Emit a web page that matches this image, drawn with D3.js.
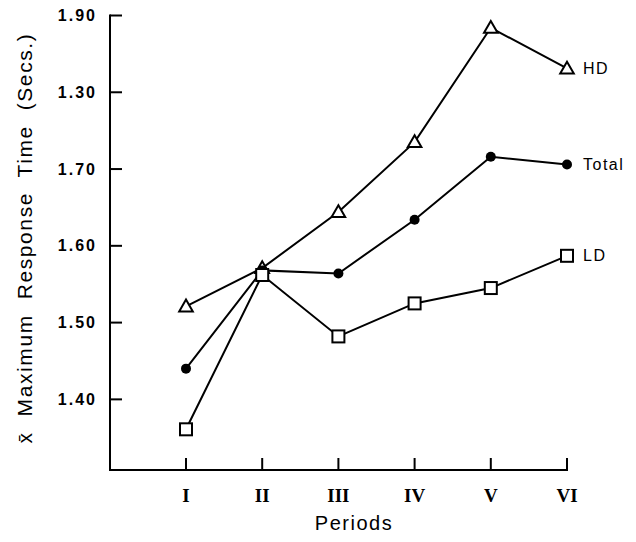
<!DOCTYPE html>
<html>
<head>
<meta charset="utf-8">
<script src="https://cdn.jsdelivr.net/npm/d3@7/dist/d3.min.js"></script>
<style>
  html, body { margin: 0; padding: 0; background: #fff; }
  svg { display: block; }
  text { fill: #000; }
</style>
</head>
<body>
<svg id="chart" width="636" height="542"></svg>
<script>
// ---- data ----
const periods = ["I", "II", "III", "IV", "V", "VI"];
const hdValues = [1.521, 1.571, 1.644, 1.735, 1.884, 1.831];
const totalValues = [1.440, 1.568, 1.564, 1.634, 1.716, 1.706];
const ldValues = [1.361, 1.562, 1.482, 1.525, 1.545, 1.587];
const seriesNames = ["HD", "Total", "LD"];
const yTickValues = [1.40, 1.50, 1.60, 1.70, 1.80, 1.90];
const yTickLabels = ["1.40", "1.50", "1.60", "1.70", "1.30", "1.90"];
const yTitle = "x\u0304  Maximum  Response  Time  (Secs.)";
const xTitle = "Periods";

// ---- layout ----
const svg = d3.select("#chart");
const axisLeft = 110, axisBottom = 470, axisTop = 15.5;

const xs = d3.scalePoint().domain(periods).range([186, 567]);
const xPos = p => xs(p);

const y = d3.scaleLinear().domain([1.308, 1.90]).range([axisBottom, axisTop]);

const sansFont = "'Liberation Sans', Arial, sans-serif";

// axes lines
const g = svg.append("g");
g.append("line").attr("x1", axisLeft).attr("x2", axisLeft)
  .attr("y1", y(1.90) - 1).attr("y2", axisBottom)
  .attr("stroke", "#000").attr("stroke-width", 2);
g.append("line").attr("x1", axisLeft - 1).attr("x2", xPos("VI") + 1)
  .attr("y1", axisBottom).attr("y2", axisBottom)
  .attr("stroke", "#000").attr("stroke-width", 2);

// y ticks (pointing inward)
g.selectAll(".ytick").data(yTickValues).enter().append("line")
  .attr("x1", axisLeft).attr("x2", axisLeft + 12)
  .attr("y1", d => y(d)).attr("y2", d => y(d))
  .attr("stroke", "#000").attr("stroke-width", 2);
g.selectAll(".ylabel").data(yTickValues).enter().append("text")
  .attr("x", 97).attr("y", d => y(d))
  .attr("dy", "0.35em")
  .attr("text-anchor", "end")
  .attr("font-family", sansFont)
  .attr("font-weight", "bold")
  .attr("font-size", 16)
  .attr("letter-spacing", 2)
  .text((d, i) => yTickLabels[i]);

// x ticks (pointing up)
g.selectAll(".xtick").data(periods).enter().append("line")
  .attr("x1", d => xPos(d)).attr("x2", d => xPos(d))
  .attr("y1", axisBottom).attr("y2", axisBottom - 12)
  .attr("stroke", "#000").attr("stroke-width", 2);
g.selectAll(".xlabel").data(periods).enter().append("text")
  .attr("x", d => xPos(d)).attr("y", 495)
  .attr("dy", "0.35em")
  .attr("text-anchor", "middle")
  .attr("font-family", "'Liberation Serif', 'Times New Roman', serif")
  .attr("font-weight", "bold")
  .attr("font-size", 19)
  .text(d => d);

// axis titles
svg.append("text")
  .attr("x", 354).attr("y", 523)
  .attr("dy", "0.35em")
  .attr("text-anchor", "middle")
  .attr("font-family", sansFont)
  .attr("font-size", 20)
  .attr("letter-spacing", 1.5)
  .text(xTitle);

svg.append("text")
  .attr("transform", "translate(25,238) rotate(-90)")
  .attr("dy", "0.35em")
  .attr("text-anchor", "middle")
  .attr("font-family", sansFont)
  .attr("font-size", 21)
  .attr("letter-spacing", 1.6)
  .style("white-space", "pre")
  .text(yTitle);

// series
const series = [
  { name: seriesNames[0], values: hdValues, marker: "triangle" },
  { name: seriesNames[1], values: totalValues, marker: "circle" },
  { name: seriesNames[2], values: ldValues, marker: "square" }
];

const line = d3.line().x((d, i) => xPos(periods[i])).y(d => y(d));

series.forEach(s => {
  const sg = svg.append("g");
  sg.append("path").attr("d", line(s.values))
    .attr("fill", "none").attr("stroke", "#000").attr("stroke-width", 2);
  const pts = sg.selectAll(".pt").data(s.values).enter();
  if (s.marker === "circle") {
    pts.append("circle")
      .attr("cx", (d, i) => xPos(periods[i])).attr("cy", d => y(d))
      .attr("r", 5).attr("fill", "#000");
  } else if (s.marker === "square") {
    pts.append("rect")
      .attr("x", (d, i) => xPos(periods[i]) - 6).attr("y", d => y(d) - 6)
      .attr("width", 12).attr("height", 12)
      .attr("fill", "#fff").attr("stroke", "#000").attr("stroke-width", 2);
  } else {
    const tri = d3.symbol().type(d3.symbolTriangle).size(80);
    pts.append("path")
      .attr("d", tri)
      .attr("transform", (d, i) => `translate(${xPos(periods[i])},${y(d) + 1})`)
      .attr("fill", "#fff").attr("stroke", "#000").attr("stroke-width", 2);
  }
  // end label
  const last = s.values[s.values.length - 1];
  sg.append("text")
    .attr("x", xPos("VI") + 16).attr("y", y(last))
    .attr("dy", "0.35em")
    .attr("font-family", sansFont)
    .attr("font-size", 16)
    .attr("letter-spacing", 1.5)
    .text(s.name);
});
</script>
</body>
</html>
